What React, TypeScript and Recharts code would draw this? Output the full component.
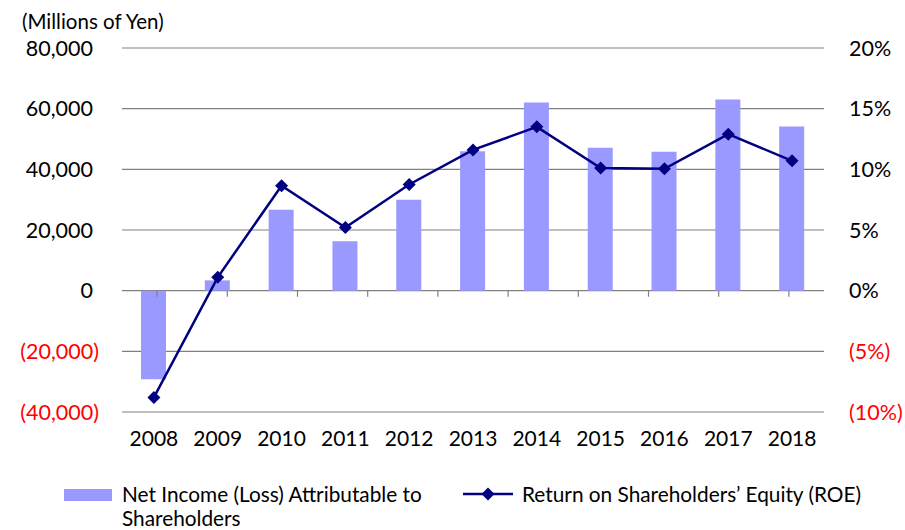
import React from 'react';
import { ComposedChart, Bar, Line, XAxis, YAxis, CartesianGrid, ReferenceLine } from 'recharts';

const years = ['2008', '2009', '2010', '2011', '2012', '2013', '2014', '2015', '2016', '2017', '2018'];
const netIncome = [-29200, 3400, 26700, 16300, 30000, 46000, 62000, 47100, 45800, 63000, 54100];
const roe = [-8.8, 1.1, 8.65, 5.2, 8.75, 11.6, 13.5, 10.1, 10.05, 12.9, 10.7];
const leftTicks = [-40000, -20000, 0, 20000, 40000, 60000, 80000];
const rightTicks = [-10, -5, 0, 5, 10, 15, 20];
const boundaries = [-0.5, 0.5, 1.5, 2.5, 3.5, 4.5, 5.5, 6.5, 7.5, 8.5, 9.5, 10.5];

const data = years.map((y, i) => ({ year: y, ni: netIncome[i], roe: roe[i] }));

const FONT = 'Lato, "Open Sans", sans-serif';
const BAR_COLOR = '#9999FF';
const LINE_COLOR = '#000080';
const GRID_COLOR = '#808080';

const fmtLeft = (v: number) => (v < 0 ? `(${Math.abs(v).toLocaleString('en-US')})` : v.toLocaleString('en-US'));
const fmtRight = (v: number) => (v < 0 ? `(${Math.abs(v)}%)` : `${v}%`);

const LeftTick = (props: any) => {
  const { x, y, payload } = props;
  const v = payload.value;
  // Excel-style: positive numbers are padded by the width of ")"
  const xx = v < 0 ? x : x - 6;
  return (
    <text x={xx} y={y} dy="0.36em" textAnchor="end" fill={v < 0 ? '#FF0000' : '#000'} fontSize={21.5} fontFamily={FONT}>
      {fmtLeft(v)}
    </text>
  );
};

const RightTick = (props: any) => {
  const { x, y, payload } = props;
  const v = payload.value;
  return (
    <text x={x} y={y} dy="0.36em" textAnchor="start" fill={v < 0 ? '#FF0000' : '#000'} fontSize={21.5} fontFamily={FONT}>
      {fmtRight(v)}
    </text>
  );
};

const Diamond = (props: any) => {
  const { cx, cy } = props;
  if (cx == null || cy == null) return null;
  const r = 6.5;
  return <polygon points={`${cx},${cy - r} ${cx + r},${cy} ${cx},${cy + r} ${cx - r},${cy}`} fill={LINE_COLOR} />;
};

export default function App() {
  return (
    <div style={{ position: 'absolute', left: 0, top: 0, width: 905, height: 530, background: '#fff', fontFamily: FONT, overflow: 'hidden' }}>
      <div style={{ position: 'absolute', left: 22, top: 7, fontSize: 20.5, lineHeight: '28px', color: '#000', whiteSpace: 'nowrap' }}>
        (Millions of Yen)
      </div>
      <ComposedChart width={905} height={530} data={data} margin={{ top: 48, right: 0, left: 0, bottom: 88 }}>
        <CartesianGrid horizontal vertical={false} stroke={GRID_COLOR} strokeWidth={1.2} yAxisId="left" />
        <XAxis
          dataKey="year"
          xAxisId="cat"
          axisLine={false}
          tickLine={false}
          height={30}
          tickMargin={13}
          tick={{ fill: '#000', fontSize: 21, fontFamily: FONT }}
          interval={0}
        />
        <XAxis xAxisId="num" type="number" domain={[-0.5, 10.5]} allowDataOverflow hide />
        <YAxis
          yAxisId="left"
          orientation="left"
          width={122}
          domain={[-40000, 80000]}
          ticks={leftTicks}
          axisLine={false}
          tickLine={false}
          tickSize={0}
          tickMargin={23}
          tick={<LeftTick />}
          allowDataOverflow
        />
        <YAxis
          yAxisId="right"
          orientation="right"
          width={81}
          domain={[-10, 20]}
          ticks={rightTicks}
          axisLine={false}
          tickLine={false}
          tickSize={0}
          tickMargin={25}
          tick={<RightTick />}
          allowDataOverflow
        />
        {boundaries.map((b) => (
          <ReferenceLine
            key={b}
            xAxisId="num"
            yAxisId="left"
            segment={[{ x: b, y: 0 }, { x: b, y: -2000 }]}
            stroke={GRID_COLOR}
            strokeWidth={1.2}
          />
        ))}
        <Bar dataKey="ni" xAxisId="cat" yAxisId="left" fill={BAR_COLOR} barSize={25} isAnimationActive={false} />
        <Line
          dataKey="roe"
          xAxisId="cat"
          yAxisId="right"
          stroke={LINE_COLOR}
          strokeWidth={2.5}
          dot={<Diamond />}
          activeDot={false}
          isAnimationActive={false}
        />
      </ComposedChart>
      <div style={{ position: 'absolute', left: 64, top: 489, width: 48, height: 12, background: BAR_COLOR }} />
      <div style={{ position: 'absolute', left: 122, top: 482, fontSize: 20.8, lineHeight: '24px', color: '#000', whiteSpace: 'nowrap' }}>
        Net Income (Loss) Attributable to
        <br />
        Shareholders
      </div>
      <svg style={{ position: 'absolute', left: 462, top: 486 }} width={52} height={16}>
        <line x1={1} y1={8} x2={51} y2={8} stroke={LINE_COLOR} strokeWidth={2.5} />
        <polygon points="26,1.5 32.5,8 26,14.5 19.5,8" fill={LINE_COLOR} />
      </svg>
      <div style={{ position: 'absolute', left: 522, top: 482, fontSize: 20.8, lineHeight: '24px', color: '#000', whiteSpace: 'nowrap' }}>
        Return on Shareholders’ Equity (ROE)
      </div>
    </div>
  );
}
